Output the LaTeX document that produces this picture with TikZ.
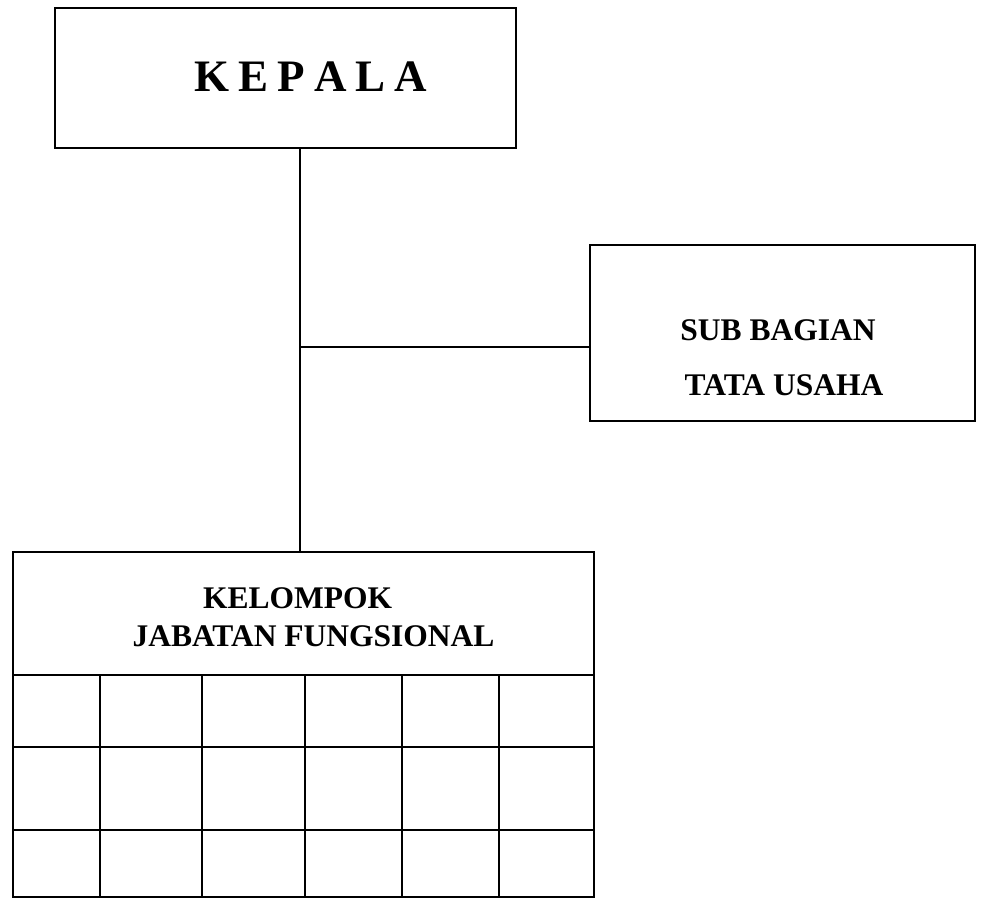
\documentclass[tikz,border=0pt]{standalone}
\usepackage{fontspec}
\setmainfont{Liberation Serif}
\begin{document}
\begin{tikzpicture}[x=1pt,y=-1pt,
  boxline/.style={draw=black,line width=2pt},
  unitbox/.style={boxline,rectangle,inner sep=0pt},
  lbl/.style={font=\bfseries\fontsize{31.5}{36}\selectfont,anchor=base,inner sep=0pt},
  wire/.style={draw=black,line width=2pt}]
\useasboundingbox (0,0) rectangle (982,899);
% boxes
\node[unitbox,minimum width=461pt,minimum height=140pt] (kepala) at (285.5,78) {};
\node[unitbox,minimum width=385pt,minimum height=176pt] (tu) at (782.5,333) {};
\node[lbl,font=\bfseries\fontsize{45}{50}\selectfont] (kt) at (311,92) {K\kern9pt E\kern9pt P\kern9pt A\kern9pt L\kern9pt A};
\node[lbl] (tu1) at (778,340) {SUB BAGIAN};
\node[lbl] (tu2) at (784,395) {TATA USAHA};
% functional group
\node[unitbox,minimum width=581pt,minimum height=123pt] (jf) at (303.5,613.5) {};
\node[lbl] (jf1) at (297.5,608) {KELOMPOK};
\node[lbl] (jf2) at (313.5,646) {JABATAN FUNGSIONAL};
% grid
\draw[boxline] (13,675) rectangle (594,897);
\draw[boxline] (13,747) -- (594,747);
\draw[boxline] (13,830) -- (594,830);
\foreach \xx in {100,202,305,402,499}
  \draw[boxline] (\xx,675) -- (\xx,897);
% connectors
\coordinate (junc) at (300,347);
\draw[wire] (300,0 |- kepala.south) -- (300,0 |- jf.north);
\draw[wire] (junc) -- (junc -| tu.west);
\end{tikzpicture}
\end{document}
